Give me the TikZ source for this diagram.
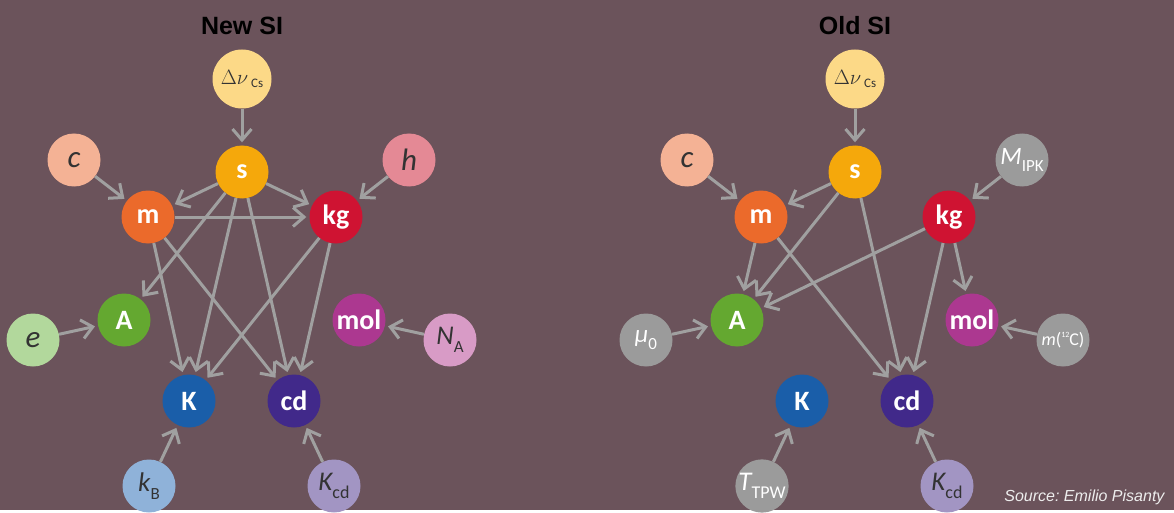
\documentclass[tikz,border=0pt]{standalone}
\usepackage{fontspec}
\setmainfont{Carlito}
\newfontfamily\titlefont{Liberation Sans}
\usetikzlibrary{arrows.meta}

\definecolor{backgr}{HTML}{6B535B}
\definecolor{arrowgray}{HTML}{A0A0A0}
\definecolor{textdark}{HTML}{333333}
\definecolor{srcgray}{HTML}{EDEDED}
\definecolor{colDnu}{HTML}{FCD987}
\definecolor{colS}{HTML}{F5A80B}
\definecolor{colC}{HTML}{F4B295}
\definecolor{colH}{HTML}{E48995}
\definecolor{colM}{HTML}{EB6A2B}
\definecolor{colKg}{HTML}{CF1332}
\definecolor{colA}{HTML}{64A830}
\definecolor{colE}{HTML}{B2D89C}
\definecolor{colMol}{HTML}{AC3890}
\definecolor{colNA}{HTML}{D89BC6}
\definecolor{colK}{HTML}{1A5EA9}
\definecolor{colCd}{HTML}{41298A}
\definecolor{colKB}{HTML}{8FB2D9}
\definecolor{colKcd}{HTML}{A295C3}
\definecolor{colGray}{HTML}{9B9B9B}

\newcommand{\lowsub}[2][17]{\raisebox{-0.28em}{\fontsize{#1}{#1}\upshape\selectfont #2}}
\newcommand{\dnucs}{{\fontsize{22}{22}\selectfont$\Delta\nu$\hspace{3pt}\raisebox{-0.12em}{\fontsize{13}{13}\upshape\mdseries\selectfont Cs}}}

\begin{document}
\begin{tikzpicture}[x=1pt,y=-1pt]
	% Styles
	\tikzset{unit/.style={circle, minimum size=53pt, inner sep=0pt, text=white, font=\fontsize{28}{28}\selectfont\bfseries}}
	\tikzset{consts/.style={circle, minimum size=53pt, inner sep=0pt, text=textdark, font=\fontsize{27}{27}\selectfont\itshape}}
	\tikzset{oldconst/.style={consts, fill=colGray, text=white, font=\fontsize{25}{25}\selectfont\itshape}}
	\tikzset{arr/.style={draw=arrowgray, line width=3pt, -{Straight Barb[length=11pt,width=19pt]}, shorten >=3pt}}

	% Background
	\fill[backgr] (0,0) rectangle (1174,510);

	% New SI
	\node[anchor=base, font=\titlefont\bfseries\fontsize{25}{25}\selectfont] (tnew) at (242,35) {New SI};

	\node[consts, fill=colDnu, minimum size=59pt, font=\mdseries] (nDnu) at (242,79) {\dnucs};
	\node[unit, fill=colS] (ns) at (242,172) {s};
	\node[consts, fill=colC, font=\fontsize{31}{31}\selectfont\itshape] (nc) at (74,160) {c};
	\node[consts, fill=colH, font=\fontsize{31}{31}\selectfont\itshape] (nh) at (409,160) {h};
	\node[unit, fill=colM] (nm) at (148,217) {m};
	\node[unit, fill=colKg] (nkg) at (336,217) {kg};
	\node[unit, fill=colA] (nA) at (124,320) {A};
	\node[consts, fill=colE, font=\fontsize{31}{31}\selectfont\itshape] (ne) at (33,340) {e};
	\node[unit, fill=colMol] (nmol) at (359,320) {mol};
	\node[consts, fill=colNA] (nNA) at (450,340) {N\lowsub{A}};
	\node[unit, fill=colK] (nK) at (189,401) {K};
	\node[unit, fill=colCd] (ncd) at (294,401) {cd};
	\node[consts, fill=colKB] (nkB) at (149,486) {k\lowsub{B}};
	\node[consts, fill=colKcd] (nKcd) at (334,486) {K\lowsub[18]{cd}};

	\draw[arr] (nDnu) -- (ns);
	\draw[arr] (nc) -- (nm);
	\draw[arr] (nh) -- (nkg);
	\draw[arr] (ns) -- (nm);
	\draw[arr] (ns) -- (nkg);
	\draw[arr] (nm) -- (nkg);
	\draw[arr] (ns) -- (nA);
	\draw[arr] (ns) -- (nK);
	\draw[arr] (ns) -- (ncd);
	\draw[arr] (nm) -- (nK);
	\draw[arr] (nm) -- (ncd);
	\draw[arr] (nkg) -- (nK);
	\draw[arr] (nkg) -- (ncd);
	\draw[arr] (ne) -- (nA);
	\draw[arr] (nNA) -- (nmol);
	\draw[arr] (nkB) -- (nK);
	\draw[arr] (nKcd) -- (ncd);

	% Old SI
	\begin{scope}[xshift=613pt]
	\node[anchor=base, font=\titlefont\bfseries\fontsize{25}{25}\selectfont] (told) at (242,35) {Old SI};

	\node[consts, fill=colDnu, minimum size=59pt, font=\mdseries] (oDnu) at (242,79) {\dnucs};
	\node[unit, fill=colS] (os) at (242,172) {s};
	\node[consts, fill=colC, font=\fontsize{31}{31}\selectfont\itshape] (oc) at (74,160) {c};
	\node[oldconst] (oMipk) at (409,160) {M\lowsub{IPK}};
	\node[unit, fill=colM] (om) at (148,217) {m};
	\node[unit, fill=colKg] (okg) at (336,217) {kg};
	\node[unit, fill=colA] (oA) at (124,320) {A};
	\node[oldconst] (omu) at (33,340) {μ\lowsub{0}};
	\node[unit, fill=colMol] (omol) at (359,320) {mol};
	\node[oldconst, font=\fontsize{18}{18}\selectfont] (omC) at (450,340) {\textit{m}(\raisebox{0.45em}{\fontsize{8}{8}\selectfont 12}C)};
	\node[unit, fill=colK] (oK) at (189,401) {K};
	\node[unit, fill=colCd] (ocd) at (294,401) {cd};
	\node[oldconst, font=\fontsize{27}{27}\selectfont\itshape] (oT) at (149,486) {T\lowsub[18]{TPW}};
	\node[consts, fill=colKcd] (oKcd) at (334,486) {K\lowsub[18]{cd}};

	\draw[arr] (oDnu) -- (os);
	\draw[arr] (oc) -- (om);
	\draw[arr] (oMipk) -- (okg);
	\draw[arr] (os) -- (om);
	\draw[arr] (os) -- (oA);
	\draw[arr] (os) -- (ocd);
	\draw[arr] (om) -- (oA);
	\draw[arr] (om) -- (ocd);
	\draw[arr] (okg) -- (oA);
	\draw[arr] (okg) -- (ocd);
	\draw[arr] (okg) -- (omol);
	\draw[arr] (omu) -- (oA);
	\draw[arr] (omC) -- (omol);
	\draw[arr] (oT) -- (oK);
	\draw[arr] (oKcd) -- (ocd);
	\end{scope}

	\node[anchor=base east, font=\titlefont\itshape\fontsize{16}{16}\selectfont, text=srcgray] (src) at (1168,501) {Source:\ Emilio Pisanty};
\end{tikzpicture}
\end{document}
